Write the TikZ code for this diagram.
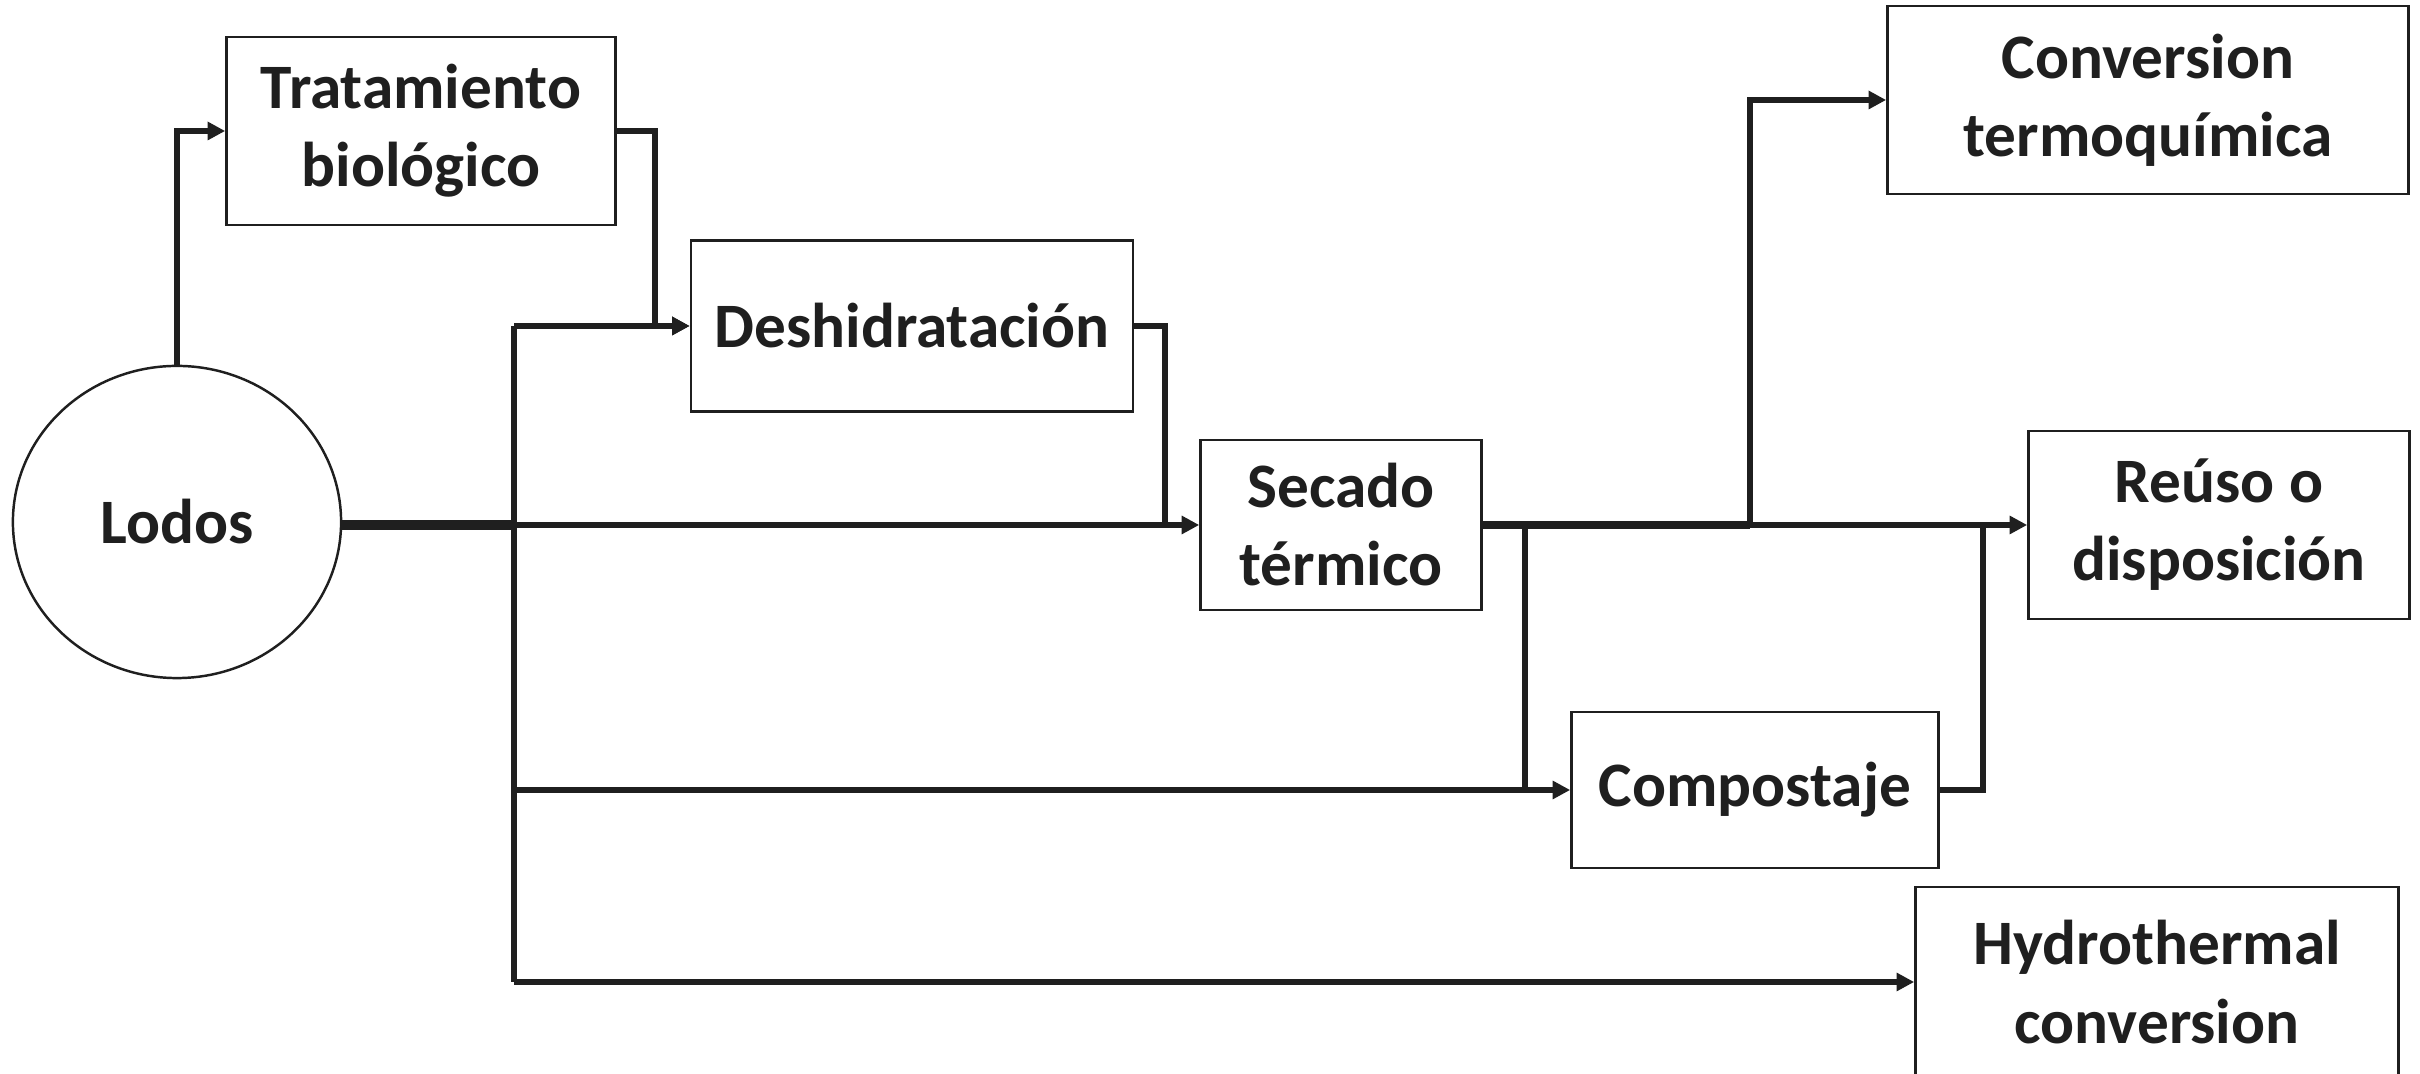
\documentclass[tikz,border=0pt]{standalone}
\usepackage{fontspec}
\setmainfont{Carlito}
\usetikzlibrary{arrows.meta,shapes.geometric}

\begin{document}
\begin{tikzpicture}[x=0.01cm,y=-0.01cm,
    box/.style={draw=black!88, line width=0.7pt, align=center, inner sep=0pt,
      text=black!88, font=\fontsize{18}{22.2}\selectfont\bfseries},
    link/.style={draw=black!88, line width=1.6pt},
    flow/.style={link, -{Triangle[length=5pt,width=5pt]}}]
    \useasboundingbox (0,0) rectangle (2420,1074);
    % nodes
    \node[box, ellipse, minimum width=3.28cm, minimum height=3.12cm] (lodos) at (177,522) {Lodos};
    \node[box, minimum width=3.89cm, minimum height=1.88cm] (trat) at (421,131) {Tratamiento\\biológico};
    \node[box, minimum width=4.42cm, minimum height=1.71cm] (desh) at (912,326) {Deshidratación};
    \node[box, minimum width=2.81cm, minimum height=1.70cm] (secado) at (1341,525) {Secado\\térmico};
    \node[box, minimum width=5.21cm, minimum height=1.88cm] (conv) at (2148,100) {Conversion\\termoquímica};
    \node[box, minimum width=3.81cm, minimum height=1.88cm] (reuso) at (2219,525) {Reúso o\\disposición};
    \node[box, minimum width=3.67cm, minimum height=1.56cm] (compost) at (1755,790) {Compostaje};
    \node[box, minimum width=4.83cm, minimum height=1.90cm] (hydro) at (2157,982) {Hydrothermal\\conversion};
    % junctions
    \coordinate (split) at (514,525);
    \coordinate (top) at (514,326);
    \coordinate (low) at (514,790);
    \coordinate (bottom) at (514,982);
    \coordinate (deshdown) at (1165,525);
    \coordinate (compsplit) at (1525,525);
    \coordinate (convsplit) at (1750,525);
    \coordinate (compup) at (1983,525);
    % connectors
    \draw[flow] (lodos.north) |- (trat.west);
    \draw[flow] (trat.east) -- ++(38,0) |- (desh.west);
    \draw[link, line width=2.6pt] (lodos.east |- split) -- (split);
    \draw[link] (top) -- (bottom);
    \draw[flow] (top) -- (desh.west);
    \draw[flow] (split) -- (secado.west);
    \draw[link] (desh.east) -| (deshdown);
    \draw[flow] (low) -- (compost.west);
    \draw[flow] (bottom) -- (hydro.west);
    \draw[link, line width=2.2pt] (secado.east) -- (convsplit);
    \draw[flow] (convsplit) -- (reuso.west);
    \draw[flow] (convsplit) |- (conv.west);
    \draw[link] (compsplit) -- (compsplit |- compost.west);
    \draw[link] (compost.east) -| (compup);
\end{tikzpicture}
\end{document}
